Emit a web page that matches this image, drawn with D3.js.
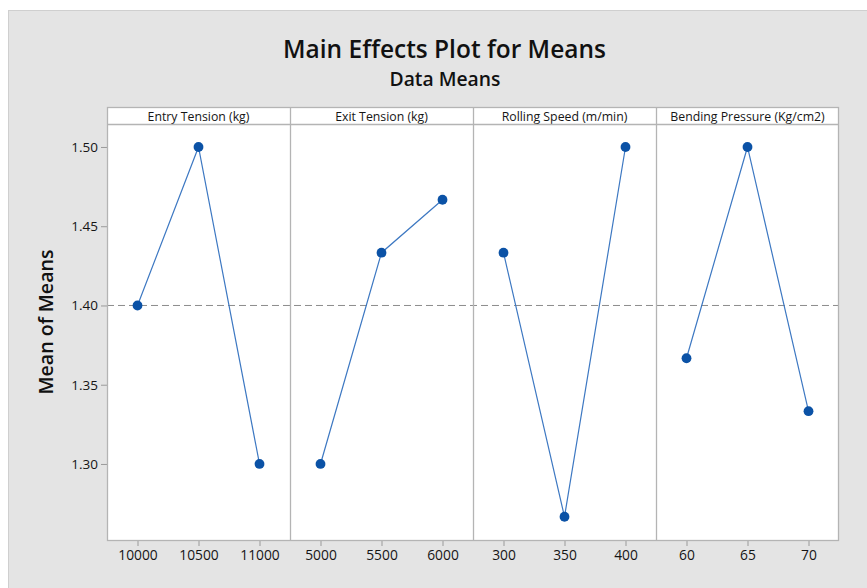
<!DOCTYPE html>
<html>
<head>
<meta charset="utf-8">
<script src="https://cdn.jsdelivr.net/npm/d3@7"></script>
<style>
  html, body { margin: 0; padding: 0; background: #ffffff; }
  svg { display: block; }
  text { font-family: "Open Sans", "Noto Sans", sans-serif; }
</style>
</head>
<body>
<svg id="chart" width="867" height="588"></svg>
<script>
// ---- data ----
const factors = ["Entry Tension (kg)", "Exit Tension (kg)", "Rolling Speed (m/min)", "Bending Pressure (Kg/cm2)"];
const entryLevels = ["10000", "10500", "11000"];
const entryMeans = [1.4000, 1.5000, 1.3000];
const exitLevels = ["5000", "5500", "6000"];
const exitMeans = [1.3000, 1.4333, 1.4667];
const speedLevels = ["300", "350", "400"];
const speedMeans = [1.4333, 1.2667, 1.5000];
const pressureLevels = ["60", "65", "70"];
const pressureMeans = [1.3667, 1.5000, 1.3333];
const grandMean = 1.40;
const yTicks = [1.30, 1.35, 1.40, 1.45, 1.50];
const yDomain = [1.2514, 1.5145];

const panels = [
  { name: factors[0], levels: entryLevels, means: entryMeans },
  { name: factors[1], levels: exitLevels, means: exitMeans },
  { name: factors[2], levels: speedLevels, means: speedMeans },
  { name: factors[3], levels: pressureLevels, means: pressureMeans }
];

// ---- layout ----
const svg = d3.select("#chart");
const W = 867, H = 588;
const plotLeft = 107, plotRight = 839, headTop = 107, headBottom = 124, plotBottom = 541;
const frameColor = "#b4b4b4";
const lineColor = "#3d78c2";
const dotColor = "#0b52a6";
const textColor = "#151515";

// background
svg.append("rect").attr("x", 8.5).attr("y", 10.5).attr("width", W).attr("height", H)
  .attr("fill", "#e4e4e4").attr("stroke", "#cfcfcf").attr("stroke-width", 1);

function fitText(sel, target) {
  const base = parseFloat(sel.attr("font-size"));
  const w = sel.node().getComputedTextLength();
  if (w > 0) sel.attr("font-size", base * target / w);
}

// titles
const t1 = svg.append("text").attr("x", 444.5).attr("y", 57.5).attr("text-anchor", "middle")
  .attr("font-size", 24).attr("font-weight", 600).attr("fill", "#111").text("Main Effects Plot for Means");
fitText(t1, 323);
const t2 = svg.append("text").attr("x", 445).attr("y", 86).attr("text-anchor", "middle")
  .attr("font-size", 17).attr("font-weight", 600).attr("fill", "#111").text("Data Means");
fitText(t2, 111);

// scales
const panelScale = d3.scaleBand().domain(factors).range([plotLeft, plotRight]).padding(0);
const y = d3.scaleLinear().domain(yDomain).range([plotBottom, headBottom]);

// plot background
svg.append("rect").attr("x", plotLeft).attr("y", headTop).attr("width", plotRight - plotLeft)
  .attr("height", plotBottom - headTop).attr("fill", "#ffffff");

// grand mean dashed line
svg.append("line").attr("x1", plotLeft).attr("x2", plotRight)
  .attr("y1", y(grandMean)).attr("y2", y(grandMean))
  .attr("stroke", "#8c8c8c").attr("stroke-width", 1).attr("stroke-dasharray", "7,4");

// y axis
const yAxis = d3.axisLeft(y).tickValues(yTicks).tickFormat(d3.format(".2f")).tickSize(6).tickPadding(3);
const gy = svg.append("g").attr("transform", `translate(${plotLeft},0)`).call(yAxis);
gy.select(".domain").remove();
gy.selectAll(".tick line").attr("stroke", "#9a9a9a");
gy.selectAll(".tick text").attr("font-size", 13.5).attr("fill", textColor)
  .attr("font-family", "'Open Sans', 'Noto Sans', sans-serif");

// y label
const yl = svg.append("text")
  .attr("transform", `translate(53,${(headTop + plotBottom) / 2 - 2}) rotate(-90)`)
  .attr("text-anchor", "middle").attr("font-size", 19).attr("font-weight", 600).attr("fill", "#111").text("Mean of Means");
fitText(yl, 145);

panels.forEach(p => {
  const x0 = panelScale(p.name), x1 = x0 + panelScale.bandwidth();
  const x = d3.scalePoint().domain(p.levels).range([x0, x1]).padding(0.5);
  const g = svg.append("g");

  // header label
  g.append("text").attr("x", (x0 + x1) / 2).attr("y", 120.5).attr("text-anchor", "middle")
    .attr("font-size", 12.3).attr("fill", textColor).text(p.name);

  // x axis
  const xAxis = d3.axisBottom(x).tickSize(5).tickPadding(4);
  const gx = g.append("g").attr("transform", `translate(0,${plotBottom})`).call(xAxis);
  gx.select(".domain").remove();
  gx.selectAll(".tick line").attr("stroke", "#9a9a9a");
  gx.selectAll(".tick text").attr("font-size", 13.8).attr("fill", textColor)
    .attr("font-family", "'Open Sans', 'Noto Sans', sans-serif");

  const pts = p.levels.map((l, i) => [x(l), y(p.means[i])]);
  g.append("path").attr("d", d3.line()(pts)).attr("fill", "none")
    .attr("stroke", lineColor).attr("stroke-width", 1.2);
  g.selectAll("circle").data(pts).enter().append("circle")
    .attr("cx", d => d[0]).attr("cy", d => d[1]).attr("r", 4.9).attr("fill", dotColor);
});

// frame: outer box, header separator, panel separators
svg.append("rect").attr("x", plotLeft + 0.5).attr("y", headTop + 0.5)
  .attr("width", plotRight - plotLeft - 1).attr("height", plotBottom - headTop - 1)
  .attr("fill", "none").attr("stroke", frameColor).attr("stroke-width", 1.3);
svg.append("line").attr("x1", plotLeft).attr("x2", plotRight).attr("y1", headBottom + 0.5).attr("y2", headBottom + 0.5)
  .attr("stroke", frameColor).attr("stroke-width", 1.3);
factors.slice(1).forEach(f => {
  const xx = Math.round(panelScale(f)) + 0.5;
  svg.append("line").attr("x1", xx).attr("x2", xx).attr("y1", headTop).attr("y2", plotBottom)
    .attr("stroke", frameColor).attr("stroke-width", 1.3);
});
</script>
</body>
</html>
